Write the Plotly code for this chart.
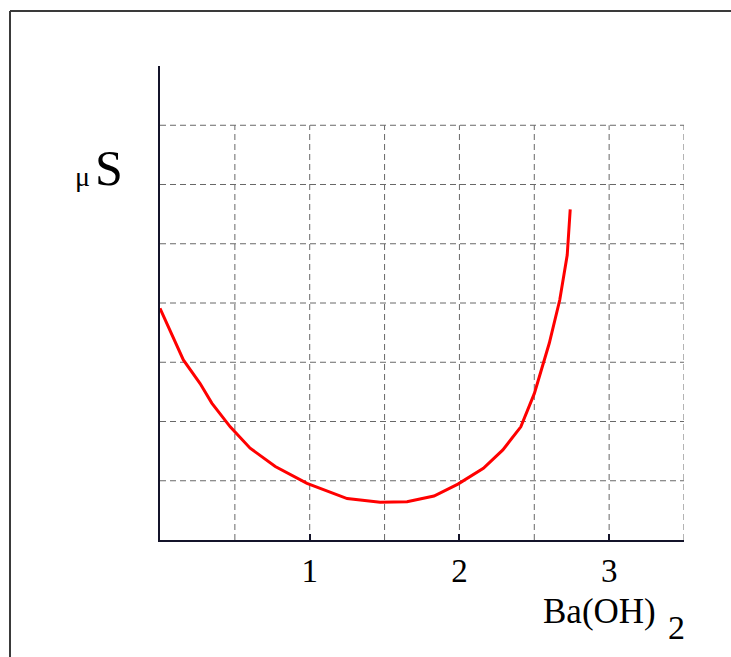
import plotly.graph_objects as go

# ---- data ----
ba_oh2 = [0.0, 0.156, 0.268, 0.346, 0.469, 0.602, 0.77, 0.982, 1.25, 1.47,
          1.65, 1.83, 1.99, 2.16, 2.29, 2.41, 2.50, 2.60, 2.67, 2.72, 2.74]
micro_s = [3.91, 3.04, 2.64, 2.31, 1.91, 1.55, 1.24, 0.955, 0.70, 0.636,
           0.646, 0.742, 0.944, 1.21, 1.52, 1.91, 2.47, 3.32, 4.05, 4.81, 5.58]
x_ticks = [1, 2, 3]
x_tick_labels = ["1", "2", "3"]
grid_x = [0.5, 1, 1.5, 2, 2.5, 3, 3.5]
grid_y = [1, 2, 3, 4, 5, 6, 7]

OFF = 0  # body margin removed via post_script
W, H = 731, 657
L, R, T, B = 160, 47, 66, 117
X_RANGE = [0, 3.5]
Y_RANGE = [0, 8]
pw, ph = W - L - R, H - T - B

def px_x(p):  # window pixel -> paper
    return (p - OFF - L) / pw

def px_y(p):
    return (H - B - (p - OFF)) / ph

SERIF = "Liberation Serif, Times New Roman, serif"
GRID = "#686868"
AXIS = "#14142a"

fig = go.Figure()
fig.add_trace(go.Scatter(x=ba_oh2, y=micro_s, mode="lines",
                         line=dict(color="#ff0000", width=3),
                         hoverinfo="skip", showlegend=False))

shapes = []
for gx in grid_x:
    shapes.append(dict(type="line", xref="x", yref="y", x0=gx, x1=gx,
                       y0=0, y1=grid_y[-1],
                       line=dict(color=GRID, width=1, dash="6px,4px"), layer="below"))
for gy in grid_y:
    shapes.append(dict(type="line", xref="x", yref="y", x0=0, x1=grid_x[-1],
                       y0=gy, y1=gy,
                       line=dict(color=GRID, width=1, dash="6px,4px"), layer="below"))
# outer frame (top and left edges)
shapes.append(dict(type="line", xref="paper", yref="paper",
                   x0=px_x(10), x1=px_x(735), y0=px_y(11), y1=px_y(11),
                   line=dict(color="#3a3a3a", width=2)))
shapes.append(dict(type="line", xref="paper", yref="paper",
                   x0=px_x(10), x1=px_x(10), y0=px_y(11), y1=px_y(662),
                   line=dict(color="#3a3a3a", width=2)))

annotations = [
    dict(text="S", x=px_x(109), y=px_y(168), xref="paper", yref="paper",
         xanchor="center", yanchor="middle", showarrow=False,
         font=dict(family=SERIF, size=50, color="black")),
    dict(text="μ", x=px_x(82), y=px_y(176), xref="paper", yref="paper",
         xanchor="center", yanchor="middle", showarrow=False,
         font=dict(family=SERIF, size=28, color="black")),
    dict(text="Ba(OH)", x=px_x(599), y=px_y(611.5), xref="paper", yref="paper",
         xanchor="center", yanchor="middle", showarrow=False,
         font=dict(family=SERIF, size=35, color="black")),
    dict(text="2", x=px_x(676.5), y=px_y(627.5), xref="paper", yref="paper",
         xanchor="center", yanchor="middle", showarrow=False,
         font=dict(family=SERIF, size=34, color="black")),
]

fig.update_layout(
    width=W, height=H,
    margin=dict(l=L, r=R, t=T, b=B, pad=0),
    paper_bgcolor="white", plot_bgcolor="white",
    shapes=shapes, annotations=annotations,
    xaxis=dict(range=X_RANGE, showgrid=False, zeroline=False,
               showline=True, linecolor=AXIS, linewidth=2,
               tickmode="array", tickvals=x_ticks, ticktext=x_tick_labels,
               ticks="inside", ticklen=6, tickwidth=2, tickcolor=AXIS,
               ticklabelstandoff=0,
               tickfont=dict(family=SERIF, size=33, color="black"),
               fixedrange=True),
    yaxis=dict(range=Y_RANGE, showgrid=False, zeroline=False,
               showline=True, linecolor=AXIS, linewidth=2,
               showticklabels=False, ticks="", fixedrange=True),
)

fig.write_html(
    "out.html",
    config={"displayModeBar": False},
    post_script="document.body.style.margin='0';document.body.style.overflow='hidden';"
                "document.documentElement.style.overflow='hidden';",
)
